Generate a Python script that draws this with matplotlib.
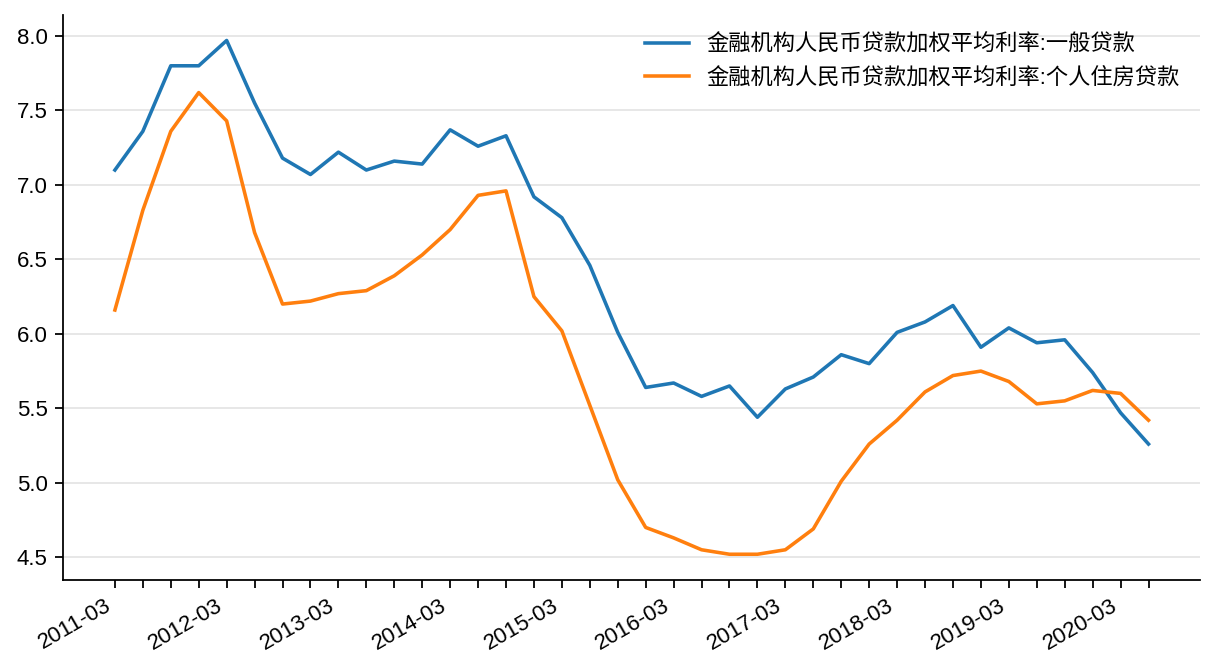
import matplotlib
matplotlib.use("Agg")
import matplotlib.pyplot as plt

plt.rcParams['font.family'] = ['Liberation Sans', 'Noto Sans CJK SC']
plt.rcParams['axes.unicode_minus'] = False

# 季度
dates = ['2011-03', '2011-06', '2011-09', '2011-12',
         '2012-03', '2012-06', '2012-09', '2012-12',
         '2013-03', '2013-06', '2013-09', '2013-12',
         '2014-03', '2014-06', '2014-09', '2014-12',
         '2015-03', '2015-06', '2015-09', '2015-12',
         '2016-03', '2016-06', '2016-09', '2016-12',
         '2017-03', '2017-06', '2017-09', '2017-12',
         '2018-03', '2018-06', '2018-09', '2018-12',
         '2019-03', '2019-06', '2019-09', '2019-12',
         '2020-03', '2020-06']

# 一般贷款
general = [7.10, 7.36, 7.80, 7.80, 7.97, 7.55, 7.18, 7.07,
           7.22, 7.10, 7.16, 7.14, 7.37, 7.26, 7.33, 6.92,
           6.78, 6.46, 6.01, 5.64, 5.67, 5.58, 5.65, 5.44,
           5.63, 5.71, 5.86, 5.80, 6.01, 6.08, 6.19, 5.91,
           6.04, 5.94, 5.96, 5.74, 5.47, 5.26]

# 个人住房贷款
housing = [6.16, 6.83, 7.36, 7.62, 7.43, 6.68, 6.20, 6.22,
           6.27, 6.29, 6.39, 6.53, 6.70, 6.93, 6.96, 6.25,
           6.02, 5.52, 5.02, 4.70, 4.63, 4.55, 4.52, 4.52,
           4.55, 4.69, 5.01, 5.26, 5.42, 5.61, 5.72, 5.75,
           5.68, 5.53, 5.55, 5.62, 5.60, 5.42]

names = ['金融机构人民币贷款加权平均利率:一般贷款',
         '金融机构人民币贷款加权平均利率:个人住房贷款']

fig, ax = plt.subplots(figsize=(7.6, 4.2), dpi=160)
x = list(range(len(dates)))
ax.plot(x, general, color='#1f77b4', lw=1.6, label=names[0])
ax.plot(x, housing, color='#ff7f0e', lw=1.6, label=names[1])

ax.set_xticks(x)
ax.set_xticklabels([d if i % 4 == 0 else '' for i, d in enumerate(dates)],
                   rotation=30, ha='right')
ax.set_yticks([4.5, 5.0, 5.5, 6.0, 6.5, 7.0, 7.5, 8.0])
ax.tick_params(labelsize=10)

ax.grid(axis='y', color='#e5e5e5', lw=0.8)
ax.set_axisbelow(True)
ax.spines['top'].set_visible(False)
ax.spines['right'].set_visible(False)

ax.legend(loc='upper right', frameon=False, fontsize=10)

fig.subplots_adjust(left=0.052, right=0.987, top=0.978, bottom=0.137)
fig.savefig('out.png')
